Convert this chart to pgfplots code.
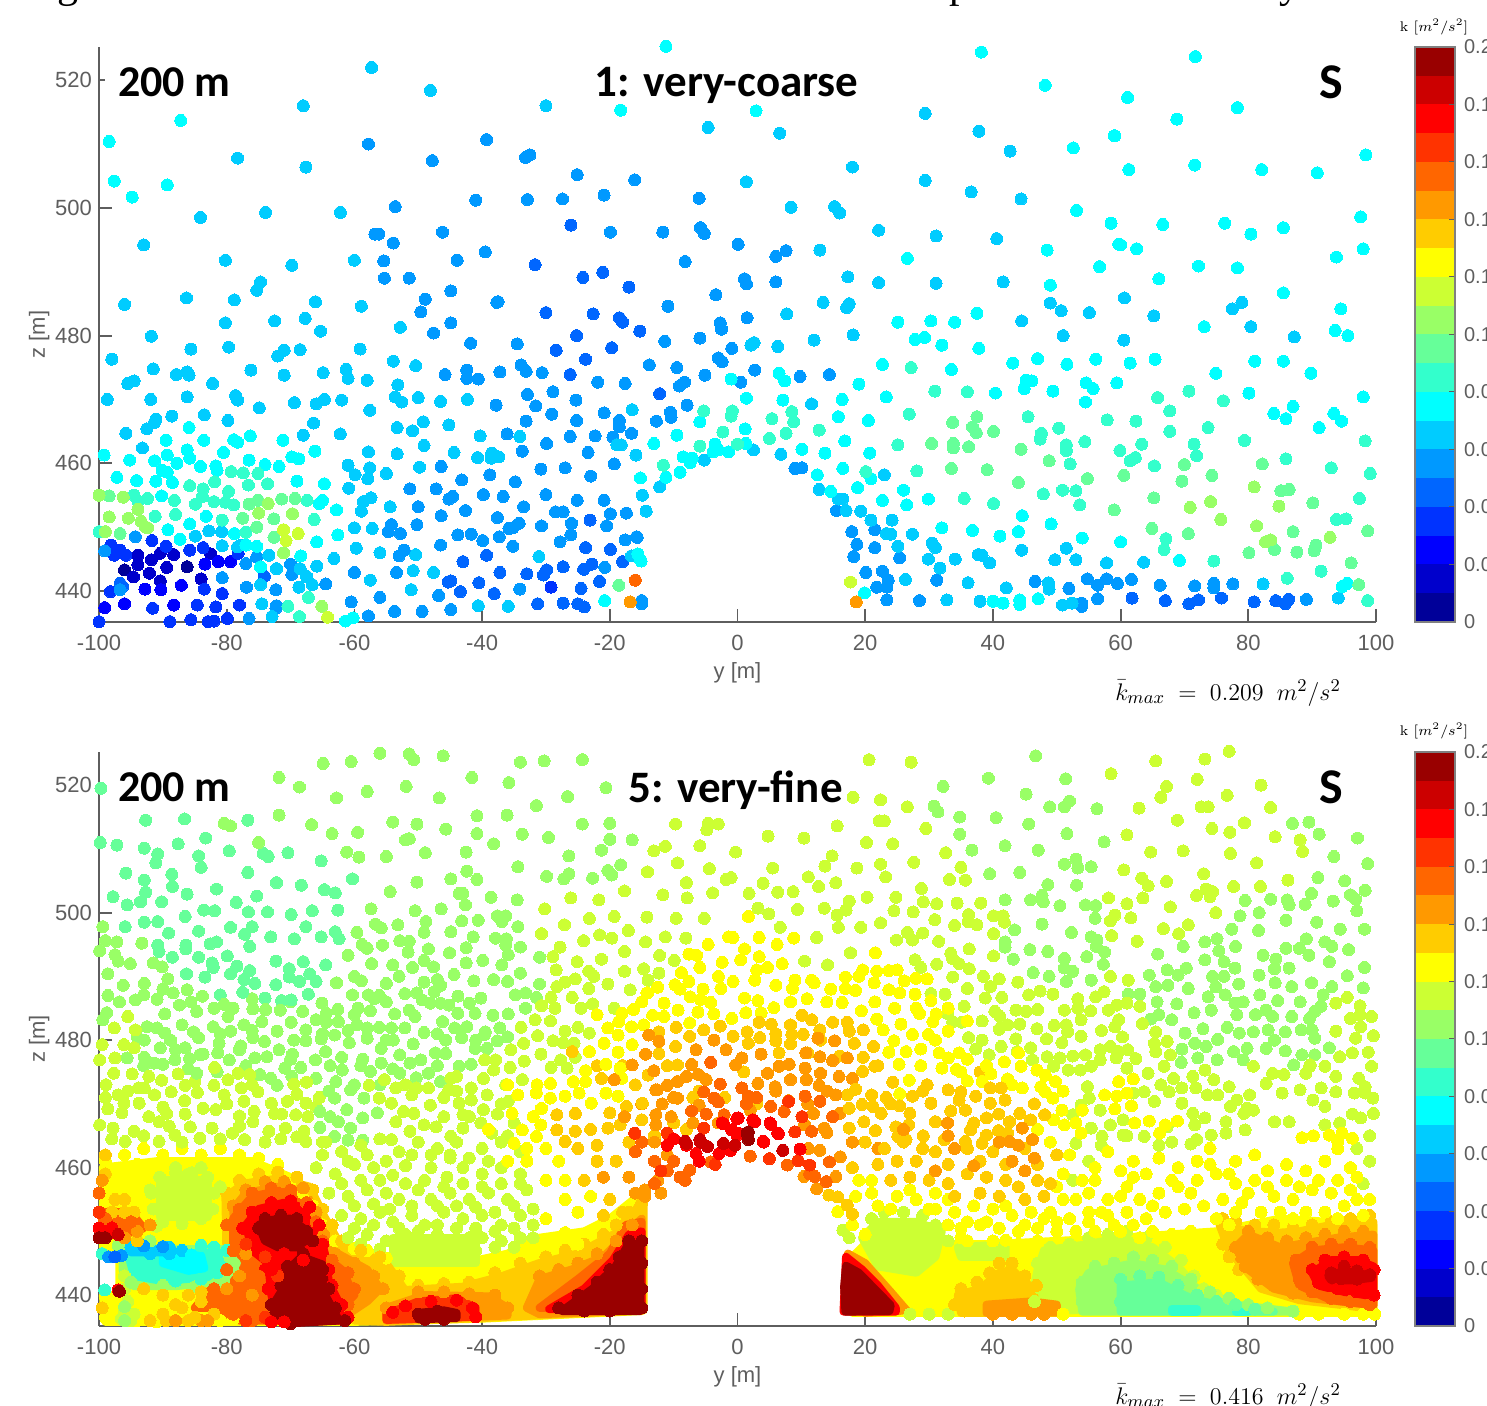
\documentclass[border=0pt]{standalone}
\usepackage{fontspec}
\setmainfont{Liberation Sans}
\newfontfamily\calib{Carlito}
\newfontfamily\serifx{Liberation Serif}
\usepackage{pgfplots}
\pgfplotsset{compat=1.18}
\definecolor{cA}{HTML}{000099}\definecolor{cB}{HTML}{0000CC}\definecolor{cC}{HTML}{0000FF}\definecolor{cD}{HTML}{0033FF}
\definecolor{cE}{HTML}{0066FF}\definecolor{cF}{HTML}{0099FF}\definecolor{cG}{HTML}{00CCFF}\definecolor{cH}{HTML}{00FFFF}
\definecolor{cI}{HTML}{33FFCC}\definecolor{cJ}{HTML}{66FF99}\definecolor{cK}{HTML}{99FF66}\definecolor{cL}{HTML}{CCFF33}
\definecolor{cM}{HTML}{FFFF00}\definecolor{cN}{HTML}{FFCC00}\definecolor{cO}{HTML}{FF9900}\definecolor{cP}{HTML}{FF6600}
\definecolor{cQ}{HTML}{FF3300}\definecolor{cR}{HTML}{FF0000}\definecolor{cS}{HTML}{CC0000}\definecolor{cT}{HTML}{990000}
\definecolor{axg}{HTML}{5E5E5E}
\pgfplotsset{
 dots/.style={only marks,mark=*,mark size=3pt,color=#1,mark options={line width=0pt,fill=#1,draw=#1}},
 blob/.style={fill=#1,draw=#1,line width=4pt,line join=round,mark=none},
 main/.style={scale only axis,width=638.5pt,xmin=-100,xmax=100,ymin=435.15,ymax=525.2,clip=false,
  axis lines*=left,axis line style={color=axg,line width=1.2pt,-},
  tick style={color=axg,line width=0.9pt},major tick length=6.5pt,tick align=inside,
  xtick={-100,-80,...,100},ytick={440,460,...,520},
  tick label style={font=\fontsize{11}{13}\selectfont,text=axg},
  xticklabel style={yshift=-3pt},
  /pgf/number format/assume math mode=true,/pgf/number format/1000 sep={},
  xlabel={y [m]},ylabel={z [m]},
  label style={font=\fontsize{11}{13}\selectfont,text=axg},
  xlabel style={yshift=1pt},ylabel style={yshift=-4pt}},
 cbar/.style={scale only axis,width=20pt,xmin=0,xmax=1,ymin=0,ymax=0.2,clip=true,
  xtick=\empty,ytick={0,0.02,...,0.2},yticklabels={0,0.02,0.04,0.06,0.08,0.1,0.12,0.14,0.16,0.18,0.2},
  ytick pos=right,yticklabel pos=right,tick align=inside,major tick length=3pt,
  axis line style={color=gray,line width=0.6pt},tick style={color=axg,line width=0.5pt},axis on top,
  tick label style={font=\fontsize{10}{11}\selectfont,text=axg,xshift=1pt},
  /pgf/number format/assume math mode=true}
}
\newcommand\cb[3]{\addplot[fill=#1,draw=none] coordinates {(0,#2)(1,#2)(1,#3)(0,#3)} --cycle;}
\newcommand\cbands{\cb{cA}{0}{0.01}\cb{cB}{0.01}{0.02}\cb{cC}{0.02}{0.03}\cb{cD}{0.03}{0.04}\cb{cE}{0.04}{0.05}\cb{cF}{0.05}{0.06}\cb{cG}{0.06}{0.07}\cb{cH}{0.07}{0.08}\cb{cI}{0.08}{0.09}\cb{cJ}{0.09}{0.1}\cb{cK}{0.1}{0.11}\cb{cL}{0.11}{0.12}\cb{cM}{0.12}{0.13}\cb{cN}{0.13}{0.14}\cb{cO}{0.14}{0.15}\cb{cP}{0.15}{0.16}\cb{cQ}{0.16}{0.17}\cb{cR}{0.17}{0.18}\cb{cS}{0.18}{0.19}\cb{cT}{0.19}{0.2}}
\newcommand\boxes[3]{%
 \fill[white] (axis cs:-99,#1) rectangle (axis cs:-74.7,525.4);
 \fill[white] (axis cs:-23.2,#2) rectangle (axis cs:#3,525.4);
 \fill[white] (axis cs:86,#1) rectangle (axis cs:98.2,525.4);
 \node[font=\calib\bfseries\fontsize{22}{24}\selectfont] at (axis cs:-88.2,519.7) {200 m};
 \node[font=\calib\bfseries\fontsize{25}{26}\selectfont] at (axis cs:93,519.7) {S};}
\begin{document}
\begin{tikzpicture}
\path[use as bounding box] (0,0) rectangle (743.5pt,703pt);
\clip (0,0) rectangle (743.5pt,703pt);
\node[anchor=base,font=\serifx\fontsize{21}{24}\selectfont] at (34pt,704pt) {g};
\node[anchor=base,font=\serifx\fontsize{21}{24}\selectfont] at (480pt,704pt) {p};
\node[anchor=base,font=\serifx\fontsize{21}{24}\selectfont] at (645pt,704pt) {y};
% ---------------- top panel
\begin{axis}[main,anchor=south west,at={(49.5pt,392pt)},height=287.5pt]
\addplot[dots=cA] coordinates {(-96,443.3)(-86.2,443.8)};
\addplot[dots=cB] coordinates {(-82.5,445.8)(-88.3,445.7)(-90.4,445.9)(-91.8,444.9)(-93.9,445.6)(-93.9,444.1)(-89.4,443.7)(-92.1,442.8)(-94.6,442.2)(-84,441.9)(-90.4,441.6)};
\addplot[dots=cC] coordinates {(-83.4,444.2)(-81.3,444.6)(-79.4,444.6)(-87.1,440.9)(-92.8,440.3)(-90.3,440.2)(-96,438)(-99.1,437.4)(-88.3,437.8)};
\addplot[dots=cD] coordinates {(-83.7,446.8)(-85.8,446.4)(-89.5,447)(-95.8,445.6)(-96.7,446.4)(-98.1,447.2)(-97.6,445.6)(-83.5,440.3)(-98.2,439.9)(-80.7,439.6)(-91.6,437.3)(-84.6,437.8)(-81.7,437.5)(-78,437.8)(-100,435.2)(-88.9,435.2)(-85.6,435.5)(-82.9,435.2)(-82,435.3)(-79.9,435.7)(-78.2,445.9)(-29.2,440.6)(-91.7,447.9)};
\addplot[dots=cE] coordinates {(-30,483.6)(-22.6,483.4)(-18.5,482.8)(-18,482.1)(-15.3,480.7)(-25.2,480)(-28.4,477.7)(-19.7,478.1)(-26.1,497.3)(-31.7,491.1)(-21.1,489.9)(-24.2,489.1)(-17,487.6)(-12.2,470.9)(-23.8,476.3)(-26.2,473.9)(-23.1,451.1)(-23.8,446.8)(-19.9,446.5)(-39.3,445.6)(-43,444.6)(-18,444.6)(-27.3,443.8)(-22.8,444.2)(-24.1,443.4)(-29.9,443.3)(-30.4,442.5)(-37.2,442.9)(-33,442.7)(-44.9,441.6)(-45.3,441.4)(-40.5,441.3)(-21.6,441.5)(-24.5,440.4)(-43.4,439.9)(-38.1,439.6)(-31.3,438)(-27.3,438.1)(-25,438)(-24,437.5)(-74.1,442.3)(-96.7,441.2)(-96.3,440.7)(61.8,438.9)(67,438.5)(70.7,438)(72.2,438.6)(75.8,438.9)(80.9,438.3)(84.3,438.5)(85.8,438)(86.3,438.7)};
\addplot[dots=cF] coordinates {(-57.8,510)(-47.8,507.4)(-39.3,510.7)(-41,501.2)(-53.6,500.2)(-56.8,495.9)(-56.2,495.9)(-53.9,494.5)(-46.2,496.2)(-39.5,493.1)(-43.9,491.8)(-55.4,491.7)(-55.3,489)(-51.4,489)(-48.9,485.7)(-44.9,487)(-49.6,483.7)(-44.9,482)(-37.7,485.2)(-47.6,480.4)(-41.8,478.8)(-33.2,507.9)(-32.5,508.3)(-25.1,505.2)(-16.1,504.4)(-32.9,501.3)(-27.4,501.4)(-20.9,502)(-6,501.5)(-19.9,496.2)(-11.7,496.2)(-5.8,496.9)(-5.2,496)(0.1,494.3)(7.6,493.3)(6,492.4)(-8.2,491.6)(1.1,488.9)(1.4,488.1)(6,488.4)(-37.5,485.3)(-3.4,486.4)(-10.9,484.6)(1.5,482.8)(-2.7,482)(-2.5,481)(-34.5,478.7)(-11.4,479.1)(-5.9,479.6)(-0.9,478)(-13.8,475.4)(-9.5,475)(-3,476.5)(-2.4,475.9)(-5.1,473.8)(2.7,474.6)(0.5,472.7)(9.8,473.6)(14.4,473.9)(-8.3,472.7)(-9.1,472.1)(-7.9,469.1)(-10.5,468)(-10.4,467.2)(-12.7,466.6)(-45.8,473.9)(-42.4,474.6)(-42.4,473.3)(-40.6,473.2)(-37.2,474.3)(-33.9,475.4)(-33.1,474.4)(-30.6,474.2)(-21.9,472.7)(-17.6,472.5)(-28.9,471.2)(-32.9,470.8)(-25.3,469.9)(-31.6,469)(-37.8,469.1)(-33.1,466.6)(-29.1,467.7)(-25.2,466.7)(-26.2,464.2)(-29.9,463.1)(-22.3,464.3)(-20.9,467.9)(-18.5,466.7)(-18.5,465.7)(-16.6,464.7)(-19.5,464.1)(-36.1,464.6)(-19.3,459.9)(-23.4,461.7)(-33.7,461.9)(-46.4,459.5)(-30.8,459.1)(-27,459.3)(-23,458)(-38.8,458.2)(-51.3,456)(-47.2,456)(-45.2,454.4)(-44.6,454.8)(-43.2,457.4)(-39.8,455.1)(-36.7,454.8)(-34.8,457.1)(-30,455.1)(-33.5,453.2)(-37.6,451.5)(-34.2,450.6)(-35.2,449.9)(-35.8,449.8)(-28.5,452.4)(-27.3,452.4)(-25.1,454.2)(-20.9,454.2)(-19.9,452.1)(-17.4,452.2)(-20.5,450.2)(-26,450.6)(-26.1,448.8)(-30.7,450.2)(-27.8,447.7)(-37.3,448.5)(-41.7,448.9)(-43.8,448.8)(-39.9,447.9)(-35.2,447)(-17.6,448)(-15.7,448.4)(-46.5,447.2)(-52.2,446.4)(-53,445.5)(-54.2,450.4)(-54.7,449.3)(-52.8,449)(-50.2,450.4)(-50,453.2)(-46.4,451.8)(-42.6,452.6)(-20.8,443.7)(-53.4,442.9)(-60,442.9)(-34.1,440.3)(-51.1,440.2)(-46.8,439.3)(-56,439)(-60.5,438.3)(-15,438.5)(-15,438)(-44.9,437.1)(-49.4,436.8)(-53.7,436.8)(-57.8,436.1)(-72.2,437.7)(-72.3,437.3)(-76.5,435.7)(-64.5,441.1)(-72.3,440.2)(-76.9,440.6)(-69.8,442.6)(-70,444.2)(-75.3,445.3)(-77,444.3)(-80.7,442.1)(-99.1,446.3)(-96.7,440.2)(-94.3,448.5)(-15.8,448.5)(9,459.2)(10.1,459.3)(15.5,452.6)(17.9,449.3)(21.5,449.6)(18.7,447.3)(21.5,446.8)(18.2,445.4)(25.4,445.2)(20.1,442.9)(22.7,443.1)(31.2,441.7)(46.6,441.5)(51.9,440.4)(54.8,441.9)(56.4,440.9)(57.8,441.9)(59.5,441.2)(61.7,441.8)(66.2,440.9)(71.6,440.8)(74.6,441.2)(74.6,440.5)(77.6,441.1)(23.6,441.7)(23.4,440.6)(21.8,440.6)(23.4,438.6)(28.5,438.5)(53.9,438.1)(53.9,437.6)(56.4,438.8)(89.1,438.7)};
\addplot[dots=cG] coordinates {(-93,494.2)(-84.1,498.5)(-78.3,507.8)(-73.9,499.3)(-68,516)(-67.6,506.4)(-62.2,499.3)(-57.3,522)(-48.1,518.4)(-60,491.8)(-69.8,491)(-80.2,491.8)(-74.7,488.4)(-75.3,487.1)(-96,484.9)(-86.3,485.9)(-78.8,485.6)(-66.1,485.3)(-58.9,484.6)(-80.2,482)(-72.5,482.3)(-67.7,482.7)(-65.3,480.7)(-52.8,481.3)(-91.8,479.9)(-30,516)(29.4,514.8)(-4.6,512.6)(6.6,511.7)(37.8,512)(42.7,508.9)(1.4,504.1)(18,506.4)(29.4,504.3)(36.6,502.5)(44.4,501.4)(8.4,500.1)(15.2,500.2)(16,499.2)(12.9,493.4)(22.1,496.5)(31.1,495.6)(40.6,495.2)(17.3,489.2)(22.1,488.3)(31.1,488.2)(41.6,488.4)(13.4,485.2)(17.5,485)(17.1,484.4)(49,485.1)(50.7,483.9)(55.1,483.6)(7.7,483.4)(44.5,482.3)(2.6,478.9)(2.1,478.5)(6.3,478.3)(12,479.3)(18.1,480.1)(51,480)(60.6,485.9)(65.2,483.1)(79,485.2)(77.5,484.2)(80.4,481.4)(60.5,479.3)(87.2,479.8)(-98,476.3)(-85.6,477.9)(-79.7,478.2)(-71,477.7)(-72,476.8)(-68.5,477.8)(-59.1,477.9)(-53.9,476)(-50.4,475.3)(-91.5,474.8)(-86.2,474.3)(-87.9,473.9)(-85.9,473.8)(-94.5,472.9)(-95.5,472.5)(-82.2,472.5)(-76.2,474.6)(-71,473.8)(-64.9,474.2)(-61.3,474.7)(-61,473.3)(-58,473)(-53.2,472.3)(-42.3,470)(-46.5,469.7)(-50,470.3)(-53.6,470.4)(-52.6,469.6)(-57.6,468.3)(-62,469.9)(-66,469.3)(-64.7,470)(-69.4,469.5)(-74.9,468.7)(-78.6,470.6)(-78.3,469.9)(-86.2,470.4)(-91.9,470)(-98.7,470)(-88.6,467.4)(-83.5,467.6)(-91.1,466.9)(-91.3,466.4)(-79.8,466.7)(-92.5,465.4)(-95.8,464.7)(-68,464.4)(-66.4,466.3)(-62.2,464.6)(-49.2,466.5)(-53.3,465.6)(-50.9,465.1)(-45.2,466)(-40.3,464.3)(-34.1,464.2)(-16.5,468.4)(-18.9,462.9)(-18.2,462.9)(-15.9,461.3)(-38.5,461.6)(-38.6,460.8)(-37.4,461)(-40.7,460.9)(-44.4,461.7)(-49.1,462.8)(-53.3,461.5)(-57.8,461.8)(-49.8,459.4)(-61,459.7)(-57.6,459.3)(-59.9,458.2)(-57.9,457.6)(-55,458.4)(-93.2,462.4)(-58.6,454)(-57.4,454.6)(-58.9,452.5)(-60.9,456.1)(-54.4,453.2)(-60,449.9)(-57.2,449.8)(-84.9,448.6)(-82.8,449.4)(-80.8,449.3)(-78.3,446.9)(-77.8,447.2)(-80.7,447.1)(-59.7,446.7)(-50.4,445.7)(-56,446)(-63.2,445.1)(-65.9,443.9)(-31.1,445.4)(-16.6,445.5)(-50.8,443.2)(-47.6,442.9)(-57.5,441.7)(-68.7,440.6)(-66.6,441)(-74.7,441)(-67.5,442.3)(-72.2,443.5)(-68.5,443.5)(-73.4,445.6)(-51.1,440.2)(-40.6,437.7)(-35.9,437.6)(-74.5,438)(-72.9,436)(11.6,469.3)(-14.9,455)(-14.3,452.5)(-12.2,456.3)(2.5,462.1)(6.8,461.4)(-5.2,460.5)(12.8,455.9)(15.8,454.4)(16.5,454.4)(17,452.6)(19.3,452.5)(20.9,451.1)(24.2,451.1)(23.3,449)(24,448.9)(27.4,448.9)(25.1,447)(30.5,447.5)(31,446.8)(29.9,445)(34.1,445)(31.7,443.6)(37.7,445.7)(38.3,445.6)(39.5,444.4)(44.5,446.4)(49.7,444.9)(51.5,446.7)(53,444.9)(57.8,444.4)(63.6,444.5)(26.3,441.8)(36.1,441.3)(42.1,440.5)(48.7,441.3)(48.8,440.3)(82.3,441.1)(32.8,438.6)(38,438.4)(50.9,437.8)(52.4,438.1)(94.1,438.9)(23,458.2)};
\addplot[dots=cH] coordinates {(-98.4,510.4)(-97.6,504.2)(-94.8,501.7)(-89.3,503.6)(-87.2,513.7)(-11.2,525.3)(38.2,524.4)(48.2,519.2)(-18.3,515.3)(2.9,515.2)(52.6,509.4)(59,511.3)(53.1,499.6)(58.5,497.6)(48.5,493.4)(59.7,494.3)(26.6,492.1)(56.7,490.8)(49,487.9)(25.1,482.1)(30.3,482.3)(34,482.1)(37.5,483.5)(27.8,479.4)(29.3,479.7)(32,478.5)(37.8,478)(71.7,523.7)(61.1,517.3)(78.3,515.7)(68.8,513.9)(59.1,511.3)(98.4,508.3)(61.3,506)(71.6,506.7)(82.1,506)(90.8,505.5)(66.6,497.4)(76.3,497.6)(80.4,495.9)(85.5,496.9)(97.6,498.6)(60,494.2)(62.5,493.6)(98,493.6)(93.8,492.3)(72.2,490.9)(78.3,490.6)(66,488.9)(85.5,486.7)(94.5,484.2)(73.1,481.4)(93.6,480.8)(95.6,480)(6.5,474.1)(7.4,472.9)(-1,473.2)(22.7,475.5)(33.5,474.7)(43.1,475.7)(47,476.4)(51.6,475.5)(56.1,476.3)(61.5,475.7)(65.4,476.3)(81,476)(85.5,476)(74.9,474.1)(89.8,474.1)(45.2,473)(46.1,472.9)(44.9,471.7)(54.6,472.6)(55.7,471.7)(59.4,472.6)(49.4,471.3)(19,472.4)(40.4,471)(1.4,470.2)(7.1,469.9)(16.4,470)(23.3,470.4)(54.5,469.6)(80.1,471)(98,470.4)(-5.9,466.5)(15.8,467.3)(20.5,466.7)(84,467.8)(85.9,467)(87,468.9)(91.1,465.6)(93.4,467.8)(94.6,466.6)(-9.5,464.4)(1.2,465.4)(-13.1,463.1)(-3.5,463)(-3,462.1)(-3.8,461.8)(-1.4,461.8)(1.3,463.1)(10.1,462.2)(13.7,461.6)(16.8,463.5)(20.7,461.6)(-8.5,461)(-7.1,460.8)(-7.4,460.1)(-9,458.6)(-11.2,457.8)(-15.2,457.7)(16.5,459.2)(12.5,458.2)(20.9,457.6)(14.6,455.6)(18.8,456.2)(26,455.8)(22.7,454.2)(26.5,453.5)(29.9,454.4)(44.6,451.8)(49.1,450.5)(32,449.9)(36.8,449.5)(44,449.3)(41.1,448.6)(54,448.3)(60,447.7)(69.2,444.8)(95.5,441.2)(94.7,440.7)(19.9,439.7)(40,438.4)(41.6,438.1)(44.2,438.6)(44.2,437.9)(47.1,438.8)(-15.1,444.7)(-85.9,465.6)(-89.5,463.6)(-83.6,463.6)(-78.9,463.7)(-78.3,463.3)(-76.3,464.3)(-71.2,463.6)(-66.2,461.9)(-69.8,461)(-68.7,460.7)(-99.2,461.3)(-95.2,460.5)(-91.3,460.4)(-89.3,461.3)(-86.2,462.1)(-85.8,460.8)(-87.8,460)(-80.5,461.7)(-76.5,460.5)(-84.1,459.5)(-81.7,459.6)(-81.5,458.9)(-90.1,458.9)(-89.3,458.6)(-74,459.8)(-71.8,459.5)(-97.2,457.8)(-94.1,457.3)(-91.1,457.2)(-88.5,457)(-69,457.2)(-64.7,456.8)(-90.2,454.9)(-65.5,453.7)(-65,454.2)(-83.2,451.7)(-62.8,452.7)(-85.8,450.5)(-89.2,449.6)(-87.3,448.1)(-78.8,449)(-62.6,448.8)(-65.9,447.7)(-75.3,447)(-77,447.2)(-74.7,443.8)(-68.4,445.5)(-15.6,445.8)(-15.2,444.9)(-61.4,435.3)(-60.2,435.8)(-20.8,438.5)};
\addplot[dots=cI] coordinates {(27.2,475)(30.9,471.3)(36,471.2)(65.8,470.3)(70.7,471.3)(76.1,469.8)(-5.3,468.2)(-0.8,468.2)(-1,467.4)(5.4,467)(8.5,468.1)(8.8,466.5)(26.9,467.7)(45.5,467.3)(57.9,466.8)(62.4,466.6)(67.7,468.2)(67.7,465)(73.7,465.6)(79.4,463.6)(98.3,463.5)(-2.3,464.9)(12.8,465.2)(7.6,464.7)(5,463.9)(-5.9,462.7)(0,463)(25.1,462.9)(47.6,464.7)(47.4,463.8)(50.3,465.5)(51.5,462.9)(51.5,462)(54.4,463.4)(59.9,462)(63.3,463)(71.5,463)(71.9,461.2)(62.3,460.9)(61.5,460.4)(52.1,459.9)(65.3,459.6)(85.9,460.7)(93,459.3)(99.1,458.4)(28.1,458.8)(20.1,458.7)(-11.6,459.7)(35.5,454.5)(40.1,453.7)(47.9,455.2)(50.9,455.8)(53,455.7)(53.6,453.5)(97.4,454.5)(93.8,451.2)(95.3,451.3)(67.1,448.2)(66.8,446.5)(74.6,444.7)(91.4,443.1)(86.1,442)(98.7,438.5)(-79.3,458.7)(-77.4,458.5)(-75.1,458.4)(-81.9,457.1)(-73.6,456.8)(-76.6,456.6)(-85.8,456.5)(-83.7,456)(-79.7,455.6)(-83.8,454.8)(-94.5,455)(-92.4,454.5)(-93.9,454)(-88.2,454.2)(-84.9,453.6)(-82,454)(-80.2,453.9)(-78.9,453.5)(-67.4,454.2)(-91.2,451.7)(-88,452)(-66.3,451.2)(-80.7,451.1)(-77,449.2)(-100,449.3)(-67.2,439)(-70.4,437.6)(-68.6,436)};
\addplot[dots=cJ] coordinates {(33.7,466.4)(37.5,467.3)(36.8,465.7)(37.4,464.8)(40.1,465)(30.4,463.1)(33.8,463.1)(33.8,462.4)(36.2,462.6)(44.4,462.2)(48.8,460.4)(70,459.8)(82.2,459.9)(33.5,459.2)(39.1,459)(44,457)(54.8,457.6)(60.5,458.1)(69.6,457.2)(74.3,458.1)(85.1,455.7)(86.4,455.9)(65.2,454.6)(90.1,453.8)(59,452.7)(64.9,449.8)(70.6,449)(87,449.3)(98.7,449.4)(84.1,446.5)(90.6,447.2)(90.3,446.3)(80.1,446)(87.6,446.1)(96.1,444.4)(97.3,441)(-75.1,454.2)(-76.5,453.6)(-71.4,454.4)(-69.3,454.5)(-98.4,454.9)(-77.5,451.4)(-75.3,450)(-96.7,449)(-72.6,451.3)(-72.6,448.4)(-18.6,440.9)};
\addplot[dots=cK] coordinates {(-100,455)(-96.2,454.7)(-93.9,452.8)(-98.4,451.6)(-95.4,451.4)(-75,452.2)(-73.5,453.7)(-69.7,452.1)(-93.4,450.9)(-92.7,450)(-92.4,449.9)(-99,449.3)(-71.1,446)(-65.1,437.6)(80.9,456.3)(70.9,453.1)(74.1,454)(84.8,453.3)(75.7,451.2)(81.3,450.2)(92.8,448.4)(83.5,448)(82.7,447.7)};
\addplot[dots=cL] coordinates {(-71.1,449.6)(-68.8,449)(-70.7,447.9)(-64.2,435.9)(17.7,441.4)};
\addplot[dots=cO] coordinates {(18.6,438.3)(-16.8,438.3)};
\addplot[dots=cP] coordinates {(-16,441.7)};
\boxes{514.4}{515.8}{19.1}
\node[font=\calib\bfseries\fontsize{22.5}{24}\selectfont] at (axis cs:-1.7,519.2) {1: very-coarse};
\end{axis}
\node[font=\fontsize{12.8}{14}\selectfont] at (614pt,356.5pt) {\fontspec{Latin Modern Roman}$\bar{k}_{max}\;=\;0.209\;\;m^2/s^2$};
\begin{axis}[cbar,anchor=south west,at={(707.5pt,392pt)},height=287.5pt]
\cbands
\end{axis}
\node[font=\fontsize{7}{8}\selectfont] at (717pt,689.5pt) {\fontspec{Latin Modern Roman}k $[m^2/s^2]$};
% ---------------- bottom panel
\begin{axis}[main,anchor=south west,at={(49.5pt,40pt)},height=287pt]
% solid ground layers, left
\addplot[blob=cM] coordinates {(-99.4,460)(-91,461)(-76,461)(-70,458.5)(-66,452)(-64,449)(-58,446.5)(-52,444.5)(-43,445)(-36,446.5)(-31,449)(-24,450)(-20,452)(-15,456)(-15,437.5)(-40,436.3)(-60,435.8)(-99,435.8)(-99.4,440)(-96.8,440)(-96.8,447.5)(-99.4,447.5)} --cycle;
\addplot[blob=cL] coordinates {(-90.5,458)(-83,458)(-83,452.2)(-90.5,452.2)} --cycle;
\addplot[blob=cL] coordinates {(-54,449)(-41,449)(-41,445)(-54,445)} --cycle;
\addplot[blob=cP] coordinates {(-99.5,453)(-95,453)(-93,450.5)(-96,449.5)(-99.5,449.5)} --cycle;
\addplot[blob=cR] coordinates {(-99.5,451.3)(-97.5,451)(-97,449.6)(-99.5,449.2)} --cycle;
\addplot[blob=cN] coordinates {(-80.2,455.4)(-77.3,457.5)(-71.8,458.3)(-67,457)(-64.7,452.3)(-62.3,448.1)(-55,445)(-52.1,440.8)(-43.1,441.3)(-37.1,442.9)(-31.1,445)(-25.1,446.5)(-19.1,449.7)(-16.7,452.8)(-14.7,453.9)(-14.7,437.6)(-40,436.4)(-55,435.8)(-60,436)(-62,441)(-70,441)(-80,444)} --cycle;
\addplot[blob=cO] coordinates {(-79,453.5)(-77,456)(-72,457)(-67.5,456)(-65.5,451)(-63.5,447)(-58,444)(-56,441)(-58,439)(-61,437)(-65,436)(-78,440)} --cycle;
\addplot[blob=cO] coordinates {(-49,440)(-44,439.9)(-39,439.8)(-36,438)(-36,436.8)(-55,436)(-55,438)} --cycle;
\addplot[blob=cO] coordinates {(-31,442.5)(-26,444)(-21,446)(-18,449)(-15,452)(-15,437.6)(-31,437)(-33,438)} --cycle;
\addplot[blob=cP] coordinates {(-79,452)(-76,455.5)(-71,456.5)(-68,455)(-66,451)(-64.5,446)(-62,444)(-60,440)(-62,438)(-64,436)(-78,436)(-82,438)(-85,438)(-82,441.5)(-79,446)} --cycle;
\addplot[blob=cQ] coordinates {(-55,437)(-50,439)(-44,439.5)(-41,438)(-41,436.6)(-55,436.1)} --cycle;
\addplot[blob=cR] coordinates {(-77,451)(-75,453.5)(-71,454.5)(-67,453.5)(-65.5,450)(-64.5,446)(-64,442)(-62.5,439)(-62,436)(-70,435.8)(-72,436)(-73,440)(-73.5,445)(-76,447)} --cycle;
\addplot[blob=cT] coordinates {(-75,451)(-73,451.8)(-70,452)(-68,450.5)(-67,449)(-69,447.5)(-72,447.5)(-74,448.5)} --cycle;
\addplot[blob=cT] coordinates {(-68.3,446)(-65,444.8)(-64.4,439.7)(-62.4,436)(-69.5,435.6)(-71.6,437.8)(-72.6,438.7)(-71,441.3)(-70.4,444)} --cycle;
\addplot[blob=cT] coordinates {(-50,437.2)(-46,437.6)(-44,437.2)(-44,436.4)(-50,436.2)} --cycle;
\addplot[blob=cP] coordinates {(-31,438)(-25,442.5)(-20,446.5)(-17.5,451)(-15,451.5)(-15,437.6)} --cycle;
\addplot[blob=cR] coordinates {(-29.5,437.8)(-24,441)(-19.5,445.5)(-17,449.5)(-15,450)(-15,437.6)} --cycle;
\addplot[blob=cT] coordinates {(-27.5,437.5)(-22.7,441)(-19.1,444.5)(-17.3,447.6)(-15.2,447.8)(-15.2,437.5)} --cycle;
% pocket
\addplot[blob=cK] coordinates {(-96.3,447.2)(-80.5,447.2)(-78.4,445)(-80.5,442.2)(-88,441.4)(-94.6,441.4)(-96.3,443.9)} --cycle;
\addplot[blob=cI] coordinates {(-95.5,446.6)(-81.3,446.6)(-80.5,444.6)(-83,442.8)(-90,442.2)(-94.5,443)} --cycle;
\addplot[blob=cH] coordinates {(-90,446.2)(-84,446.2)(-83.5,444.2)(-86,443.8)(-90,445)} --cycle;
\addplot[blob=cG] coordinates {(-95,447.2)(-88.5,447.3)(-88.5,446.7)(-95,446.7)} --cycle;
% solid ground layers, right
\addplot[blob=cM] coordinates {(18,446)(20,448)(40,448)(60,449)(75,450)(85,452)(99.6,451)(99.6,437.2)(18,437.2)} --cycle;
\addplot[blob=cL] coordinates {(19.5,449)(22,451.5)(28,451.5)(32,450)(31,446)(28,443.5)(22,444.5)} --cycle;
\addplot[blob=cL] coordinates {(34.5,447.5)(42,448)(42,446)(35,446)} --cycle;
\addplot[blob=cL] coordinates {(47,444)(48,447)(55,448)(60,449)(65,447.5)(69,444.5)(72,441)(73,438.5)(50,437.5)(46,439)} --cycle;
\addplot[blob=cK] coordinates {(53.5,441)(55,443.5)(62,445)(67,444)(72,441)(78,438.5)(87,437.4)(54,437.4)} --cycle;
\addplot[blob=cJ] coordinates {(60,441.5)(66,442)(71,439.5)(77,438)(84,437.4)(60,437.4)} --cycle;
\addplot[blob=cI] coordinates {(68,437.8)(72,437.8)(72,437.4)(68,437.4)} --cycle;
\addplot[blob=cI] coordinates {(78,437.8)(80,437.8)(80,437.4)(78,437.4)} --cycle;
\addplot[blob=cN] coordinates {(34.5,440)(38,441)(41,443.5)(43,444)(45,442)(46.5,441)(46.5,438.5)(50,437.5)(50,437.2)(35,437.2)} --cycle;
\addplot[blob=cO] coordinates {(39,438.5)(46,439)(50,438.5)(50,437.3)(39,437.2)} --cycle;
\addplot[blob=cN] coordinates {(75.5,451)(80,450)(85,449.8)(88,450)(93,451)(99.6,451.5)(99.6,437.8)(95,438.4)(88,439.2)(82,441)(77,447)} --cycle;
\addplot[blob=cO] coordinates {(77.5,447)(80,449.5)(85,447.5)(88,448)(94,449)(99.6,449.5)(99.6,438.4)(90,439.5)(84,441)(80,444)} --cycle;
\addplot[blob=cP] coordinates {(87,445)(90,447)(95,447.5)(99.6,447)(99.6,438.4)(93,439.2)(88,441.5)} --cycle;
\addplot[blob=cR] coordinates {(90,443.5)(93,445.5)(97,445.5)(99.6,444.5)(99.6,439.8)(95,440.5)(91,441.5)} --cycle;
\addplot[blob=cS] coordinates {(92.5,443)(95,443.8)(98,443.3)(99.3,442.7)(96,442.3)(93,442.3)} --cycle;
\addplot[blob=cO] coordinates {(17.3,446.5)(20,445)(24,440.5)(26.5,437.6)(20,437.2)} --cycle;
\addplot[blob=cR] coordinates {(17,446)(19.5,444)(22,441.5)(24.8,438)(24.8,437.4)(16.6,437.4)} --cycle;
\addplot[blob=cT] coordinates {(17,444.6)(19,443.5)(24,438.4)(23.8,437.5)(16.9,437.4)(16.7,441.3)} --cycle;
% dots on the edges of the dense ground layers
\addplot[dots=cM] coordinates {(-99,461)(-96,462)(-93,463)(-90,462)(-87,463)(-84,462)(-81,463)(-78,462)(-75,461.5)(-72,460.5)(-97,459)(-94,460.5)(-86,460.5)(-80,460.5)(-70,458)(-68,456)(-66.5,454)(-65,451)(-63,448.5)(-60,447.3)(-58,447)(-55,445.8)(-99,436.5)(-91,435.8)(-94,436)(-81,436)(-79,436.2)(51,437)(88,437)(91,437)(95,437)(98,437)(99.8,437)(20,449.5)(35,449)(42,448.6)};
\addplot[dots=cL] coordinates {(-90.5,458.5)(-88,459.2)(-85.5,459.2)(-83,458.5)(-82,456)(-82.2,453.5)(-84,452)(-87,451.2)(-90,451.5)(-91.5,453.5)(-91.8,456)(-65,462)(-61,461)(-58,462)(-55,461)(-51,462)(-48,462)(-45,461.5)(-42,461.5)(-39,461)(-62,457.5)(-59,458)(-56,458)(-52,457.5)(-49,458)(-46,457)(-43,457.5)(-40,457)(-37,457.5)(-34,457.5)(-60,454)(-57,454.3)(-54.5,453.5)(-51,454)(-47,454)(-44,454)(-41,453.8)(-38,453)(-35,454)(-32,453.5)(-60,450.5)(-57,451)(-53,450.5)(-50,450)(-47,451)(-44,450.5)(-41,450.5)(-38,450)(-35,450.5)(-32,451)(-56,447.2)(-59,448)(-49,446.5)(-44,447.8)(-35,447.5)(-32,449)(47,445)(49,447.5)(52,448)(55,449)(58,449.5)(61,450)(64,449)(67,447.5)(69.5,445.5)(71.5,443)(73,441)(75,440)(47.5,441)(46.5,439)(27,437)(30,437)(33,437)(-96,443)(-96,441)(-95.5,439)(-96,437.5)(-94.5,437)(-96.5,436.3)(-95,436)(-99,471)(-95.5,472)(-90,469.5)(-85,473.5)(-80,470)(-76,473)(-72.5,468.5)(-69,471.5)(-65.5,471)(-98,464.5)(-93,465)(-89,466.5)(-87,464)(-81,464.5)(-78,466.5)(-74,464)(-71.5,464.5)(-69,464.8)(-65,464)(-66,469.5)(-46,471)(-46,468)(-44,472)(-42,468)(-37,470)(-35,467)(-36,465)(-45,462)};
\addplot[dots=cK] coordinates {(54,442)(56,444.5)(59,445)(62,446)(65,445.5)(68,444.5)(71,442.5)(74,440.5)(77,439.5)(80,438.5)(83,438)(87,437.5)(54,439)(-60,473)(-64,472)(-66,474)(-59,476)(-54,475.5)(-47,476)(-46.5,473.5)(-56,473)(-70,477)(-77,476)(-81.5,475)(-86,475.5)(-93,476)(-88,478.5)(-78,478.5)(-94,480.5)(-81,481)(-76,481.5)(-65,481)(-61,481.5)(-55,480)(-47,481)(-41,480)(-36,480.5)(-60,484)(-55,486)(-70,486)(-76,486.5)(-90,488)(-60,490)(-47,489.5)(-53,490)(-97,447.8)(-95,442)(-90,441.5)(-85,441.3)(-80.5,442)(-79,444)(-79.5,446)(-94,448)(-92,448.5)(-96,436)(-96,438.2)};
\addplot[dots=cJ] coordinates {(60,442.5)(63,443)(66,442.8)(69,441.5)(72,440)(75,439)(78,438.5)(81,437.8)(60,439)};
\addplot[dots=cI] coordinates {(-82,447.5)(-80,447)(-84,447.8)(-94,444)(-92,443)(-88,442.2)(-84,442.5)(-81.5,443.5)};
\addplot[dots=cG] coordinates {(-95,447.5)(-93,447.3)(-89,447.5)(-87,447)(-89,446.5)(-92,446.5)};
\addplot[dots=cH] coordinates {(-85.5,446.3)(-87,445)(-85,444.5)};
\addplot[dots=cN] coordinates {(-80,456)(-78,458)(-75,459)(-72,459.3)(-69,458.5)(-66.5,456.5)(-65,453.5)(-63.5,451)(-62,448.5)(-59,447)(-56,446)(-53,443)(-50,441.5)(-46,441.8)(-42,442)(-38,443.5)(-34,445)(-30,446)(-27,447)(-24,448)(-21,449.5)(-19,451)(-17,453)(-15,454.5)(-92,436)(-89.5,436)(-86,436)(-99.5,438)(-93,441)(-90,440)(-88,438.5)(-86,440)(-84,440.5)(-99,459)(-97.5,455)(-98,453)(-96,455)(-94.5,453)(76,452)(78,451.5)(81,451)(84,451)(87,450.5)(90,451)(93,451.5)(96,452)(99,452.5)(76,448)(77,446)(78.5,444)(35,441)(37.5,442)(39.5,443.5)(41,445)(43,445)(45,443)(46.8,441.5)(34,438.5)(35.5,437.5)(-18,476)(-16,473)(-22,476)(-14,474.5)(-11,476)(-6,472)(-2,471)(1,475)(3,470)(-10,467)(-7,471)(-23,466)(-22,463.5)(-17,464)(-13,465)(-8,466)(6,481)(13,480)(16,477.5)(22,476)(24,470)(27,468.5)(37,467)(29,472)(38,475)};
\addplot[dots=cO] coordinates {(-79,454)(-77,456.5)(-74,457.8)(-71,457.8)(-68,456.8)(-66,453)(-64.8,449.5)(-63,446.5)(-60,445)(-57,443)(-55.5,441)(-55,438)(-50,440.5)(-46,440.5)(-42,440.2)(-38,440)(-36,438)(-31,443)(-28,444)(-25,445)(-22,446.5)(-19,448.5)(-16.5,451)(-84,436)(78,447.5)(80,450)(83,449)(86,448.5)(89,449)(92,449.5)(95,450)(98,450)(79.5,444.5)(81.5,442.5)(84,441.5)(87,440.3)(40,437)(43,437)(46,437)(48,437)(-10,471)(-6,469.8)(-15,470)(-13,464)(-11,462)(-7,467)(-3,467)(2,469)(6,472)(8,470.5)(11,470)(14,472)(18,474)(16,468.5)(14,465.5)(18,464)(22,463)};
\addplot[dots=cP] coordinates {(-80,451)(-78,453.5)(-76,456)(-73,456.8)(-70,456.5)(-67.5,454.5)(-66,451.5)(-65,448.5)(-63.5,445.5)(-61,443.5)(-60,441)(-61,438.5)(-84,438.5)(-82,441)(-80,444)(-79,447)(-76,436)(87.5,445.5)(90,447.5)(93,448)(96,448)(99,447.5)(88,442.5)(90,440.5)(93,439.5)(96,439)(99,438.5)};
\addplot[dots=cR] coordinates {(-77.5,450.5)(-76,453)(-73,454.5)(-70,454.8)(-67,453.8)(-65.5,451)(-65,448)(-64,444)(-63.5,441.5)(-62,438.5)(-61,436.5)(-73.5,441)(-74,444)(-76.5,447)(90,444)(92,445.5)(95,446)(98,445.5)(99.7,444)(91,442)(94,441)(97,440.5)(99.7,440)(-54,437.3)(-52,438.3)(-48,439)(-44,439.2)(-41.5,438)(-41,436.6)};
\addplot[dots=cS] coordinates {(93,443.5)(95,444.5)(97,443.8)(99,443.2)(94.5,442.6)(97,442.5)};
\addplot[dots=cT] coordinates {(-75,450.5)(-74,452)(-71.5,452.5)(-69,452)(-67.5,450)(-66.5,448.5)(-65,444)(-64,441)(-63,438)(-61.5,436)(-70,435.5)(-73,438.5)(-71.5,441.5)(-70.5,444.5)(-72.5,436.8)(-68,446.5)(-15,448.5)(-17,448.5)(-15,445)(-15,441)(-15,438)(-18.5,446)(-20,444)(-22,442)(-25,440)(-28,438)(-20,437.5)(-24,437.5)(-50,437)(-47,437.5)(-45,437)(-49,436.2)(-46,436.2)};
% scattered dots
\addplot[dots=cI] coordinates {(-99.5,446.5)(-99.1,440.8)};
\addplot[dots=cF] coordinates {(-98.5,446)(-96.5,446.2)(-93,447.7)(-90,447.6)};
\addplot[dots=cE] coordinates {(-97.5,446)};
\addplot[dots=cJ] coordinates {(-99.7,519.5)(-92.7,514.5)(-86.6,514.7)(-76.7,514.5)(-83.3,511.7)(-87.6,510.8)(-99.8,511)(-97.2,510.6)(-92.9,510.1)(-79.6,509.7)(-70.4,509.4)(-74.3,509.3)(-73.5,508.8)(-90.8,509.2)(-91.1,507.8)(-84.4,508.9)(-84,507.1)(-65.2,508.1)(-76.7,506.3)(-95.8,506.2)(-88.6,506)(-88.5,504.1)(-92.9,505.1)(-60.3,505.3)(-72.2,504.7)(-68.3,504.3)(-64.7,503.6)(-63,503.1)(-81.6,503.7)(-86.2,502.9)(-92.7,503.2)(-93.5,501.7)(-97.8,502.5)(-95.6,501.2)(-90.2,501.7)(-78.5,501.6)(-75.3,502.6)(-83.6,500.4)(-81.9,500.3)(-76.6,500.1)(-73.6,500.1)(-66.6,500.3)(-62.6,500.4)(-69.9,499.7)(-86.5,499.4)(-92.9,498.5)(-90.8,498.6)(-95.9,497.8)(-89.1,496.8)(-84.4,497.1)(-79.4,497.7)(-76,497.8)(-77.2,496.6)(-67.6,497.8)(-73.1,496.2)(-69.4,495.9)(-65.2,496.2)(-63,497)(-62.4,495.9)(-90.8,494.9)(-90.6,493.9)(-86.4,494.9)(-86.4,494.3)(-82.6,495.1)(-81.6,495.4)(-76.4,494.7)(-88.5,493)(-84.4,493)(-79.9,493.2)(-82.3,492.1)(-82.1,491.4)(-78.4,491.6)(-72.3,492.4)(-68,492.3)(-64.5,491.8)(-86.3,490.4)(-83.4,489.9)(-79.4,490.4)(-76.4,490.9)(-77.3,489.5)(-75.6,488.9)(-70.2,491.2)(-70.2,489.9)(-68.6,489.2)(-67,490.4)(-66,489.2)(-81,487.1)(-77.5,487.5)(-72.3,488.7)(-74,486.6)(-71.4,486.2)(-69.9,486.3)(-67.2,487.2)};
\addplot[dots=cK] coordinates {(-71.8,521.2)(-68.6,519.7)(-64.9,523.4)(-60.5,523.7)(-56,525)(-51.4,524.9)(-50.7,524)(-46.1,524.6)(-34,523.6)(-30.3,523.8)(-24.3,524)(-62.8,518)(-58,519)(-51.9,519.8)(-46.7,518)(-41.6,521.2)(-35.8,520.4)(-26.6,518.2)(-20.6,519.6)(-31.5,516.8)(-71.8,515.3)(-40.8,515.2)(-36.1,515.3)(-24.3,513.9)(-20,514)(-66.7,513.8)(-54,514.2)(-50.2,513.9)(-45.7,513.1)(-63.5,512.4)(-59.5,512.6)(-40.8,512.4)(-33.7,512.3)(-29.6,511.8)(-52,511.4)(-51.4,511.6)(-38.2,510.8)(-20,511.5)(-16.5,511.4)(-21.3,509.8)(-80.4,514)(-79.4,513.6)(-75,511)(-61.2,509.5)(-59.3,508.7)(-55,508.8)(-48.9,509.4)(-42.5,509.5)(-26.4,508.9)(-34.4,507.2)(-18.3,507.5)(-20.3,506.6)(-19.7,505.9)(-42.4,506.5)(-40.8,505.2)(-44.9,505.3)(-50.2,504.8)(-29.9,505.7)(-26.4,506.1)(-27.2,505.3)(-22.7,505.4)(-54.4,503.3)(-43.6,503)(-43,503)(-38.6,502.4)(-34.5,502)(-57.4,500.6)(-50.5,500.3)(-46.4,500.6)(-42.6,501.2)(-99.4,497.8)(-59.6,496.9)(-56.7,498.2)(-55.8,497.6)(-53.2,498.1)(-48.8,498.6)(-49.1,496.9)(-43.2,498.7)(-40.6,498.8)(-37.6,499.5)(-36.3,499.5)(-36.9,498.6)(-34.4,497.8)(-44.9,497)(-41.4,496.2)(-99,495.6)(-97.2,495.4)(-99.9,494)(-93.3,495.2)(-37.9,496)(-36.2,495.9)(-36.3,494.9)(-34,494.6)(-52.9,495.6)(-51.4,495.5)(-51.6,493.8)(-58.8,495)(-58,494.4)(-55.6,494.9)(-48.4,494.3)(-42.5,494.5)(-61,493.3)(-45.1,493.7)(-35.9,493.4)(-31,493)(-97.5,493.4)(-97,492.4)(-95.1,492)(-91.5,492.1)(-90.1,491.5)(-57.3,492)(-54,491.8)(-50.9,491.4)(-49.1,492.5)(-47.6,491.5)(-42.5,492.1)(-39.9,492.5)(-36.9,491.8)(-98.6,490.4)(-89.2,489.6)(-62.8,489)(-58.9,489.3)(-55,488.9)(-49.1,489.1)(-44.4,490.3)(-41.3,489.3)(-38.2,489.5)(-36,489.2)(-34,490.5)(-31,488.8)(-96.2,488.6)(-92.9,488.9)(-98.6,487)(-93,487.1)(-94.3,486.3)(-96.8,486)(-88.4,487.4)(-86.2,487.9)(-90.9,486.4)(-83.8,486.9)(-87.4,485.5)(-85.6,486)(-60.3,487.1)(-57.8,487.1)(-56.1,487)(-56.9,486.5)(-52.1,487.3)(-50.2,487.4)(-49.4,486.3)(-47.5,487.6)(-46.5,488.6)(-43.8,486.9)(-40.2,486.6)(-42,485.8)(-34.8,487.1)(-33.2,487.4)(-31.5,486.7)(-33.2,485)(-35.9,484.1)(-38.3,483.9)(-65.1,485.8)(-62.6,484.8)(-59.4,485)(-57.5,484.6)(-53.7,484.1)(-51.4,484.7)(-50.5,483.7)(-48.1,485.8)(-46.5,485.8)(-45.2,485.5)(-43.8,484.2)(-41.1,484.2)(-82,485)(-80.4,485.6)(-79,485)(-75.9,484.9)(-73.9,484.8)(-71.6,484.7)(-68.1,484.5)(-64.4,484.2)(-98.8,484.3)(-99.4,483.2)(-89.7,484.1)(-87,482.4)(-84.7,484.5)(-79.8,483.7)(-82.1,482.1)(-77.3,482.4)(-74.5,482.9)(-69.9,482.8)(-66,483.2)(-64.4,482.8)(-62.5,482.9)(-67.6,481.6)(-63.1,480.8)(-59.6,482.4)(-58,481.9)(-56.1,482)(-54.2,481.9)(-52.1,481.9)(-49.1,481.2)(-46.2,482.9)(-44.3,481.9)(-42.4,482.1)(-39.5,481.3)(-37.2,481.9)(-92.5,482.1)(-90.9,481.9)(-89.7,481.1)(-85.2,481.3)(-84.4,480.4)(-79.4,481.4)(-72.1,481.4)(-92.9,480)(-88.8,480)(-90.4,478.8)(-86.5,478.8)(-84.2,477.7)(-81.2,479.5)(-81.4,478)(-77.8,479.1)(-75.9,480.4)(-74.1,479.8)(-69.5,480)(-67.6,479.9)(-65.2,480.2)(-60.8,479.6)(-58,480.3)(-53.9,480)(-55.8,478.7)(-50.8,479.4)(-45.7,480)(-43.2,480.4)(-39.6,480.9)(-41.1,478.7)(-39.2,478.7)(-37.6,479.9)(-95.6,477.2)(-92.9,477.3)(-88.1,476.9)(-85.8,477.1)(-83.7,477.8)(-91.4,476.4)(-90,476.2)(-79.6,476.9)(-75.6,477.2)(-73.7,477.4)(-71.8,478.5)(-69.7,477.8)(-66.1,476.9)(-64.5,478.2)(-62,477.3)(-58.7,477)(-55.8,476.4)(-52.9,477.7)(-51.3,476.4)(-49.6,476.9)(-47.3,478)(-45.7,477.9)(-43.6,475.9)(-41.7,476.2)(-84.7,474.8)(-74.8,474.6)(-73.1,474)(-72.1,472.9)(-70.9,475.6)(-69.8,474.3)(-68.4,475.7)(-63.8,476)(-61.9,475.3)(-62.9,473.5)(-60.6,472.2)(-57.5,475.1)(-52.9,474.8)(-50.3,474.1)(-48.4,474.8)(-63.1,470.9)(-58.5,470.9)(-65.4,468.8)(-61.2,469.1)(-63.8,468)(-62.5,467.2)(-58.7,467.8)(-56.4,468.6)(-65.4,466.3)(-60.6,466.2)(-63.1,464.9)(-61,464.3)(-58.7,464.3)
(32.2,519.8)(39.3,521.1)(46.7,524.6)(51.4,521)(45.2,518.6)(48.9,516.6)(52,517.5)(51.2,516.6)(56.3,516.3)(30.8,516.7)(31.4,515.8)(34.8,515)(40.5,514.9)(45.6,513.9)(34.8,512.3)(51.6,512.4)(57.4,511.1)(41.9,510.5)(47.1,509.8)(36.7,509.8)(39.5,506.1)(44.2,506.3)(51.2,507.6)(53,508.4)(53.3,507)(55.4,507.2)(48.6,504.4)(53.1,504.3)(41.9,502)(45.9,502)(47.7,502.7)(47.9,501.7)(50.5,501.1)(54.5,501.2)(56.1,501.1)(56,499.1)(47.7,498.2)(43.4,497.3)(52.3,496.9)(55.4,496.2)(56.3,495.7)(56.2,494.7)(41.9,495.4)(41.9,494.6)(45.8,494.2)(48.6,493.9)(43.2,492.7)(51.2,492.8)(54.7,493.1)(57.5,493.8)(57.3,491.9)(91.1,512.3)(86.9,514)(89.5,514.2)(97.1,511.7)(93.4,508.8)(98.7,507.7)(90.9,505.5)(95.1,505)(98.3,503.5)(89.9,503)(88.9,501.3)(86.4,501.2)(86.1,502)(83.5,502.1)(79.5,501.9)(78.7,499.5)(81.7,500)(85.9,498.8)(90.7,498.5)(93.3,501.8)(96,502.8)(96.8,502.1)(97,500.3)(98.2,497.4)(94.4,497.4)(77.4,497.4)(81.6,497.2)(73.2,495.4)(75.1,495.9)(75.4,494)(78,494.7)(69.8,494.7)(65.8,493.5)(73.2,492.6)(76.2,492.3)(82.3,493.3)(84.3,492.7)(84.1,491.2)(85.9,494.4)(88,494.4)(89.5,493.3)(89.1,495.9)(92,495.4)(93.1,494.7)(95.7,494.2)(92.7,492.3)(98.2,491.4)(86.4,491.3)(95.5,490.1)(89.9,489)(93.1,488.4)(98,488.2)(86.8,488.4)(84.2,489)(81.7,490.2)(81.8,487.1)(84.6,486.2)(88.1,486)(91.7,487.1)(91.4,485.3)(90.4,484.5)(82.8,484.7)(81.1,484)(86.8,483.7)(89.6,483.4)(83.8,483.7)(78.5,488.8)(74.4,490)(76.2,490)(74.9,488.4)(73.7,486.8)(76.4,487.1)(77.9,491.3)(77.9,485.8)(79.2,486)(74.2,484.7)(78.2,484)(71.5,484.3)(65.7,486)(66,484)(68,483.2)(64.7,483.3)(68.8,485.7)(70.6,488.1)(65.5,488.4)(67.4,488.6)(67.3,491)(69,490.2)(70.3,491.3)(64.5,490.2)(61.2,487.2)(63,487.2)(51.2,491.3)(52.5,490.8)(51.5,489.2)(46.3,490.6)(48.8,490)(55.4,489.4)(72.9,481.8)(76.7,482)(78.6,481.1)(80.8,481.3)(75.2,480.1)(70.1,481.1)(71.6,479.5)(73.4,479)(69.6,478.6)(69.5,476.5)(72.1,477.2)(75.1,476.9)(77.7,478.2)(79.8,478.7)(79.2,476.9)(83.1,481.6)(84.1,480)(85.8,481.3)(82.8,478.7)(85.8,478.3)(88.3,481.6)(90,481.6)(90.4,480.3)(88.4,477.7)(90.4,477.7)(92.7,478.8)(87.1,476.1)};
\addplot[dots=cL] coordinates {(-9.7,513.9)(-4.6,514)(-3,513.9)(-4.8,513)(-13.1,509.7)(-11.3,510.4)(-5.9,510.5)(-9.4,507.8)(-4.4,506.9)(-14.1,506.4)(-8,504.7)(-1.8,505.2)(-26.1,502.3)(-21.7,502)(-17.7,503.4)(-11.7,502.8)(-7.9,502.3)(-3.9,503.1)(-30.2,500.6)(-30.7,496.7)(-27.1,498.1)(-23.2,499.1)(-19.3,499.4)(-14.2,499.3)(-9.6,499.1)(-5.2,499.1)(-17.1,497.2)(-21.6,496.5)(-19.7,496)(-24.1,495.6)(-27.8,494.6)(-14.4,495.4)(-11.3,496.2)(-8.1,496)(-17.7,493.9)(-28.9,493.1)(-12.2,493.3)(-21.3,492.7)(-25.1,492.3)(-9.9,492.5)(-28.4,491)(-23.3,490.8)(-22.5,490)(-25.4,489.6)(-27,489.1)(-28.3,488.4)(-17.7,490.8)(-14.7,491.2)(-14,489.4)(-12.3,490.5)(-20.3,488.8)(-16.8,487.9)(-23.3,488.1)(-29.2,486.7)(-25.9,486.7)(-22.7,485.7)(-24.5,485)(-28.6,485)(-30.7,485.4)(-19.3,485)(-95.5,483.7)(-33.9,482)(-31.7,483.2)(-29.3,483)(-27,481.4)(-25,482)(-23.2,481.1)(-97.6,481.9)(-94.3,481.6)(-99.5,479.3)(-96.1,479.3)(-94.5,478.8)(-33.5,479.5)(-31.3,480.7)(-28.9,479.9)(-27.3,479.6)(-25.6,479.5)(-35.5,478.5)(-99.9,476.9)(-97.5,477.2)(-39.6,476.9)(-37.9,476.9)(-33.4,476.7)(-30.8,477.8)(-27.7,476.9)(-25.4,477.3)(-29.2,475.7)(-26.7,475.6)(-81.9,475.7)(-87.6,474.7)(-94.8,474.7)(-97.7,474.8)(-92.2,474.3)(-90.2,473.7)(-78.2,474.8)(-76.4,474.6)(-79.8,473.8)(-82,472.9)(-67.5,473.4)(-69.5,473.1)(-57.7,472.9)(-55.3,473.8)(-44.9,474)(-44,474.3)(-39.8,474)(-38.2,475.3)(-35.6,475.7)(-33.7,473.8)(-36.3,473)(-98.9,473)(-97,471.4)(-93.8,472.5)(-92.9,472.5)(-91.3,471.4)(-88.7,471.9)(-86.5,472.9)(-84.6,471.8)(-86.6,470.5)(-80.4,471.4)(-77.7,472.5)(-77.3,470.4)(-75.1,471.9)(-73,470.1)(-70.5,470.4)(-67.6,470.1)(-96.1,470.1)(-93.7,470.1)(-98.6,469.2)(-96.4,468.6)(-92.2,468)(-89.4,468.5)(-86.5,468.4)(-83.7,469.3)(-81.7,469.1)(-78,468.1)(-75.7,468.8)(-71.4,468.4)(-69.2,468.3)(-67.3,468)(-99.9,466.7)(-97.8,466.2)(-94.5,465.7)(-90.6,467.2)(-88.1,465.1)(-85.7,466.4)(-82.3,466.2)(-79.1,465.4)(-75.9,467.2)(-73.4,465.7)(-70.8,466.2)(-67.9,465.7)(-95.9,464.1)(-90.6,464.1)(-84.2,464.6)(-77.2,464.4)(-67.6,464.1)(-56.1,470.9)(-54.2,470.1)(-53.5,472.5)(-52,473)(-50.3,472.5)(-48.4,472.5)(-51,471.4)(-45.2,472.2)(-48.1,469.8)(-52.3,468.8)(-50.7,468.5)(-43.6,470.1)(-41.7,472.5)(-39.2,471.4)(-41.7,470.6)(-39.8,469.1)(-37.6,468.4)(-53.5,467.2)(-49.1,466.7)(-47.2,466.4)(-43,468.3)(-43,466.2)(-40.2,467)(-51.3,465.7)(-44.9,464.9)(-54.2,464.4)(-38.5,465.4)(-35.9,470.4)
(-64.5,464)(-62,462.5)(-59,463.5)(-56,464.5)(-53,462.5)(-50,464)(-47,463)(-44,464)(-40,463)(-37,464)(-34,462.5)(-66,460)(-63,459)(-60,460.5)(-57,460)(-54,458.8)(-52,460.3)(-48,460)(-45.5,458.5)(-43,460)(-40,459)(-37,460)(-34,459)(-64,456)(-61,455.5)(-58,456.5)(-55,456)(-53,455)(-50,456.5)(-48,455)(-45,456)(-42,455)(-39,456)(-36,455)(-33,456.5)(-62,452.5)(-59,452)(-56,453)(-54,451.5)(-51,452.5)(-49,451)(-46,453)(-43,452)(-40,452.5)(-37,451)(-34,452.5)(-61,449)(-58,449.5)(-55,448.5)(-52,449.5)(-50,448)(-47,449.5)(-45,448)(-42,449)(-40,449)(-37,448.5)(-34,449)(-53,446.5)(-50,445.8)(-47,447)(-44,446.5)(-41,447)(-38,447.5)(-88,460)(-86,459)(-84,460)(-92,456.5)(-81,457)(-91,450.8)
(20.6,524)(27.2,523.6)(65.5,523.8)(73.2,524.1)(77,525.3)(58.5,521.8)(72,520.9)(82,520)(67.2,519.8)(66.3,518.1)(76.7,518.4)(18.1,518.1)(22.4,517.7)(26.6,516.6)(62.9,516.4)(72.6,516.6)(73.7,516.6)(83.5,516.5)(68.9,514.5)(15.6,513.6)(22.2,514.4)(23,514.4)(29.5,513.2)(74.3,513.2)(79.4,514.1)(77.1,512.6)(4.8,512)(10.4,511.7)(20.2,511)(24.3,510.8)(61,512.2)(84.2,511.9)(88.1,511.4)(88.5,509.6)(-0.3,509.5)(14.8,508.9)(13.7,507.3)(32.6,509.4)(64.7,509.5)(69.8,509.7)(77.2,509.3)(81.3,507.8)(5.5,507)(18.7,507)(22.4,507.6)(27.6,507.9)(35,507.1)(73,506.1)(-1,505.5)(11.1,505.6)(23.2,505.6)(33.2,505.2)(35.7,505.1)(60.5,506.7)(63.3,505.4)(64.3,504.2)(67.2,504.9)(86.2,505.1)(77.7,504.1)(81.9,504.1)(4,504.6)(12.7,504.1)(15.4,504.7)(1.8,503)(6.3,503.2)(8.7,503.3)(28.8,503.8)(71.9,502.7)(73.4,503.7)(74.4,503.3)(74,502.5)(17.5,501.8)(20.3,502.4)(24.8,502.4)(3.2,500.7)(4.9,499.8)(9.4,500.5)(13.6,500.7)(17,500.4)(15.6,499.6)(24.5,500.3)(29.1,501.7)(27.5,500.1)(31.2,501.4)(34.4,501.5)(38.1,501.5)(58.1,502.3)(61,501.4)(63.5,502.3)(67.8,500.9)(74.9,500)(30.9,498.9)(36.2,499.7)(36.1,498.6)(37.5,498.1)(40.1,499.5)(41.6,499.5)(41.8,498.5)(59.1,499.6)(58.4,498.7)(61.6,499.2)(22.4,498.4)(34,498)(15.8,497.7)(19.3,497.7)(6.7,497.7)(66.7,497.5)(70.6,498.1)(69.1,496.7)(58.6,496.4)(40.1,496.7)(12.4,496.1)(26.6,496.9)(29,496.8)(27.4,495.7)(24.9,495.7)(31.5,495.5)(62.6,495.5)(33.4,493.6)(33.7,492.8)(34.7,492)(36.3,491.2)(27.8,492.6)(28.7,491.4)(31.2,491.9)(36.3,494.3)(40.1,493.2)(10.5,492.4)(14.1,491.8)(17.7,493.7)(33.7,489.9)(38.5,490)(41,489.6)(39.6,488.4)(38.8,486.6)(36,488.1)(43.9,489.1)(30.3,487.3)(32.5,487.2)(41.4,486.7)(45.6,487.1)(47.4,487.7)(49.4,487.2)(35.5,485.3)(32.9,484.2)(33.7,482.9)(35.1,482.8)(38.3,483)(40.3,484.5)(41.1,483.7)(43.6,484.7)(45.2,484.5)(47,484.8)(42.3,482.4)(41,481.7)(44.2,482.5)(46.9,481.8)(51.2,484.7)(53.3,486.5)(53.3,485)(55.3,484.6)(56.1,486.8)(57.4,487.6)(58.1,484.7)(59.4,485.5)(61,485.8)(63,485.3)(58.4,490)(61.2,489.4)(63.4,482.6)(59.7,483.2)(59.1,482.1)(53.8,483.2)(49.6,482.3)(51.5,482.4)(51.7,481.3)(57,481.5)(36.2,480.4)(38.3,480)(41.3,479)(43.6,480.2)(43.8,478.2)(45.9,478.8)(48.4,480.2)(50.8,479.6)(53.8,480.6)(37.3,478.6)(39.4,477.7)(46.2,476.9)(48.5,477.4)(50.5,477.2)(52.5,477.5)(49.5,475.9)(51.8,475.3)(53.7,475.3)(54.5,477.7)(56.8,478.5)(58.4,479)(59.7,478.2)(61.1,478.5)(56.8,476.9)(55.4,475.9)(59.3,477.2)(62.4,477.1)(61,475.6)(60.3,480.5)(65.5,481.3)(67.3,479.8)(65.3,479.5)(65.5,478.2)(67.8,477.7)(66.8,475.9)(64.3,474.8)(71.3,474.3)(73.2,475.3)(74.6,473.8)(80.8,475.9)(83.8,474.8)(82.8,473.2)(85.6,474.6)(89.7,476.1)(89,474.8)(93.7,474.3)(97.3,474)(98.3,472.7)(66.3,473)(68.3,474)(67.6,471.9)(69.6,472.5)(71.8,472.5)(73.6,471.4)(75.2,471.4)(77,472.7)(80.2,471.4)(78.2,470.6)(77.2,469.6)(79.8,469.3)(85.3,471.7)(88.1,472.2)(91.4,472.5)(90.1,470.6)(92,469.6)(93.7,471.9)(96.6,471.7)(98.3,471.7)(99.5,470.9)(99.6,468.5)(97.6,467.8)(96.3,468.4)(94.3,467)(92,466.7)(86.4,467.2)(84.1,467.2)(80.8,469)(79.3,468.5)(71.3,468.5)(73.2,467.8)(71.6,466.7)(76.5,467.2)(79.5,465.9)(74.2,465.1)(76.5,465.4)(71.9,464.4)(69.6,470.1)(65.3,470.4)(63.7,471.9)(62,471.7)(54.8,472.7)(55.1,470.9)(53.8,469.8)(56.8,469)(52.5,468.3)(58.4,466.7)(60.4,467.5)(63.7,464.9)(55.4,466.2)(60.4,465.1)(67.3,466.4)(57.1,464.9)(93.7,485.8)(95.5,486.7)(97.5,485.4)(96,483.4)(97.5,484)(99.3,483.7)(97.6,482.1)(93.7,481.4)(96.8,480.3)(99.6,480.7)(98.8,478.1)(94.3,477.4)(96.3,478)(99.3,475.9)(92,475.9)(89.6,475.9)(99,465)(97,463)(99,461)(98,457.5)(68,464)(66,463.5)(71,463.7)(52.5,458)(55,461)(61,465)(57,463.5)(53,463.8)(17.5,449)(21,452)(23,453)(26,453)(29,452.5)(31,451)(24,450.7)(27,450.5)(33,448.5)(16.5,450.2)};
\addplot[dots=cM] coordinates {(-4.6,495)(-1.4,496.2)(-7.6,493.5)(-6.4,493.3)(-2.4,492.2)(-5.9,491.4)(-8.8,490.6)(-9.8,488.7)(-7.6,489.2)(-5.4,488)(-2.6,488.1)(-12.5,488.3)(-14.2,487.4)(-14.1,487.4)(-11.5,485.8)(-9.3,484.7)(-7.4,486.8)(-5.8,486.4)(-4.2,485.9)(-6.2,484.4)(-3.7,484.1)(-13.3,483.9)(-11.5,483.7)(-16.3,484.8)(-18.1,484.2)(-20.3,481.9)(-18.6,482.9)(-16.6,482.1)(-14.7,482.4)(-7.5,482.7)(-20.9,479.5)(-18.7,480.8)(-16.5,479.3)(-23.2,478.2)(-18.7,478.1)(-20.6,476.2)(-18.4,475.6)(-18.1,474)(-23.8,475.2)(-31.4,473)(-29.3,473.2)(-25.7,473.5)(-23.8,473.5)(-31.5,471.7)(-29.3,470.9)(-27,471.2)(-34.4,471.4)(-24.8,471.7)(-20.6,471.7)(-18.7,471.2)(-22.9,470.1)(-35.3,468.5)(-30.7,469.3)(-30.8,466.7)(-33.7,465.9)(-31.5,464.9)(-35,463.8)(-36,461)(-30,463)(-28,461)(-27,458)(-30,458)(-33,461)(-30,452)(-27,449.8)(-25,448)(-23,455.5)(-25,453)(-27,455)(-22,484)(-15,486)(-9,488)(-3,490)(3,491)(12,489)(14,486)(19,490)(25,491)(28,485)(33,485)(36,483)(31,480)(36,477)(39,476)(44,478)(35,475)(43,473)(51,472)(54,469)(47,466)(49,464)(53,467)(-36,473)(-39,466)(-32,468)(-33,463)
(1.7,499.4)(-0.7,496.1)(3.4,496.1)(6.2,495)(8.8,496)(1.1,494.3)(3.4,493.1)(0.5,492.6)(4.7,491.4)(7,492)(21.6,493.7)(19.6,491)(21.8,490.8)(23.7,490.9)(16.9,489.9)(21.4,489)(11.6,489.4)(9,489.4)(8.6,488.1)(2.7,489.4)(-0.7,489.2)(6,488.6)(14.6,488)(16.9,488.1)(18.5,487.8)(23.7,487.9)(25.4,487.4)(26.1,489.3)(27.9,489.7)(29.7,489.6)(27.8,487.2)(1.1,486.6)(3.2,486.2)(8.3,486)(10.9,486.5)(16.4,485.9)(21.5,486)(30.3,486.2)(24.6,485)(1.3,484.3)(5.7,485.1)(3.7,484.3)(-0.9,483.4)(19.4,484.6)(21.8,483.3)(28.5,484.2)(31.1,484.1)(30.6,482.9)(25.6,482.5)(22.8,481.6)(27.4,480.9)(29.9,480.9)(33,481.4)(24.5,479.9)(26.4,478.2)(28.7,478.6)(23.7,478.1)(31.6,478)(33,477.2)(34.7,478)(25.3,476.2)(28.7,476)(32,475.6)(34.3,475.4)(41.8,476.6)(44.4,475.9)(46.9,475.3)(48.2,474.5)(36,473.6)(38.3,473.5)(39.7,474.7)(42.3,473.9)(26.9,473.7)(44.6,472.5)(47.5,472.7)(49.8,473.5)(48.2,471.9)(49.4,470.9)(25.4,471.6)(59.7,473.5)(62,473.9)(57.5,471.4)(61,471.7)(59.4,471.2)(61.7,469.7)(59.1,469.2)(50.8,469)(49.5,467.5)(51.2,466.7)(53.8,465.4)(64.5,467.3)(68.9,467.3)(62.2,467)(67,466.7)(66.1,465.4)(88.4,464.7)(90.2,465)(92.7,465.1)(94.7,465.4)(96.3,464.6)(94,464.1)
(19,458)(21,456)(18.5,455.5)(22,454)(25,455.5)(28,455)(31,456)(31,453.5)(34,453)(37,454)(40,453.5)(43,452.5)(46,453)(49,453)(51,455)(51,459)(52,462)(54,458)(56,460)(58,462.5)(60,459.5)(62,461)(55,456)(58,455)(61,457)(64,459)(66,461.5)(69,460)(72,461)(74,463)(63,455)(66,456)(69,457)(72,458)(75,459)(78,461)(81,462)(83,459.5)(86,458)(89,459.5)(92,461)(94,463)(96,460)(78,457.5)(81,458)(84,455.5)(87,455)(90,456.5)(93,456)(96,456.5)(99,455)(73,454)(76,455)(79,454.5)(82,453)(70,453.5)(67,453)(64,452)(61,453)(58,452.5)(55,453)(52,452)(89,453)(92,453)(95,454)(98,452.5)(35,450.5)(38,451)(41,450.5)(44,450)(47,450.5)(50,450)(53,450)(56,450)(59,451)(62,451)(65,450)(68,449.5)(71,450)(74,449.5)(40,448.5)(44,448)(36,448.5)(47,448.5)(33,451)(77,451)(15.7,453.1)(18,451)(21,458)(24,453.5)(27,456.5)(30,453.5)(33,455)(36,451.5)(39,451.5)(42,454)(45,451)(48,452)(50,457)(53,455)(56,458)(57,453)(60,455.5)(62,458.5)(65,454)(68,458)(71,456)(74,460.5)(77,459)(80,456)(83,457)(86,460.5)(88,457)(91,458)(94,458)(97,458.5)(75,452)(78,453)(85,453)(87,452)(94,452)(97,455)(60,450)(63,449)(55,451.5)(50,451.5)};
\addplot[dots=cN] coordinates {(-25.9,478.2)(-12.3,481.3)(-9.6,482)(-5.3,481.6)(-2.7,482.2)(-9.7,479)(-7.5,480.6)(-12.3,477.9)(-9.4,476.1)(-28.3,468.3)(-25.4,468.5)(-17.4,469.6)(-20,468.6)(-28.3,465.9)(-25.4,465.7)(-20.3,466.2)(-18.4,466.7)(-27,464.1)(-14.9,470.1)(-15,467.5)(-21.3,474)(-25,463)(-22,461)(-24,458)(-19,461)(-20,455)(-18,453)(-15.5,453.5)(-21,452.5)(-96,453)(-94,448.5)(-90,437)(-87,438)(-85,436.5)(-84,439)(-82,437)(-99,462)
(10.1,483.9)(11.6,483.2)(12.9,481.6)(8.3,482.4)(10.3,480.9)(8.5,480.9)(14.9,482.8)(17.2,482.8)(17.5,481.4)(19.7,481.6)(18.3,479.5)(21.3,479)(3.4,482.8)(5.3,482.5)(1.5,481.3)(3.5,480.4)(1.7,479.5)(-0.7,480.6)(6,479.9)(8.3,479.4)(6.5,478)(11,478)(19.7,477.3)(21.5,475.9)(19.6,475.1)(24.3,473.4)(29.7,473)(33,472.2)(35,471.9)(37.3,471.2)(34.7,470.6)(39.6,472.5)(41.3,472.5)(39.6,470.1)(41.9,470.6)(46.5,470)(30.3,470.1)(23.3,471)(21,471.4)(18.5,472.3)(17.2,471.4)(19.5,469.9)(21.2,469.6)(17.5,469.3)(25.4,469.7)(27.4,471.2)(33.4,468.9)(35.7,469)(40.9,468.4)(39,467.8)(42.6,467.2)(44.2,468.5)(45.9,467.5)(48.1,468.3)(22.5,468.5)(19.8,467.2)(21.6,465.8)(24.8,466.4)(26.8,466.7)(17.5,466.2)(31,467.2)(29.1,465)(36.5,465.9)(39,465.1)(40.9,465.8)(42.3,465.4)(32.4,464.4)(25.1,464.9)(26.4,464.4)(35.7,464.1)(38.3,463.8)(20,464)(23,463)(26,464)(29,463)(22,460.5)(25,461)(28,461)(31,462.5)(33,460.5)(36,463)(38,461)(40,462.5)(42,460.5)(45,463)(47,460.5)(50,462)(27,458.5)(30,458)(33,457.5)(36,459)(39,458.5)(42,458)(44,457)(47,458)(49,457.5)(34,455.5)(38,456)(41,455.5)(45,455)(48,455.5)(24,458)(18,460)(14.3,455.7)(15.7,455.4)(17.2,454.1)(18,452.7)};
\addplot[dots=cO] coordinates {(-12.8,472.2)(-11,472.9)(-9.4,473.5)(-8,474.3)(-6.1,474.6)(-4.9,473.8)(-12.6,472.2)(-13.1,475.2)(-14.4,477.8)(-16.5,476.1)(-7.2,476.2)(-13.9,480.8)(-12.3,479.8)(-3.7,480)(-6.5,478.5)(-1.8,478.5)(-11.8,470)(-9.4,470.9)(-12.8,468.3)(-10.4,468)(-12.8,466.7)(-17.7,468)(-19.3,473.8)(-21,458.5)(-17,458.5)(-14.5,455.5)(-16,456)(-12.5,458)(-12,456)(-14.5,456.5)(-94,450)(-92,451)(-96,449)(-99.5,458)(-88,436)(-83,436)(-80,441)(-78,443)(-76,440)(-77,446.5)
(-0.3,476.1)(0.7,477.2)(3.7,477.8)(4.7,474.8)(6.5,475.9)(8.1,476.2)(8.3,473.8)(10.6,475.6)(10.8,473.8)(10.7,478)(12.9,477.4)(13,474.8)(14.9,476.8)(17.2,477.2)(15.9,474.3)(12.8,472.9)(3.2,473.2)(5.9,472.7)(15.4,471.4)(12.6,480.3)(15.2,479.9)(11.9,468.5)(13.6,466.2)(10.5,466.7)(32.9,467)(44.6,466.2)(46.2,464.4)(42.6,464.1)(26,466)(33,465)(31,459.5)(37,460.3)(41,464)(43,461)(45,459.5)(46.5,461.5)(44,463.5)(34,463)(10.4,458.6)(12.4,456.7)(11.1,463)(12.9,462.7)(16.1,461.7)(15.4,458.6)};
\addplot[dots=cP] coordinates {(-4.2,476.5)(-2.7,473.1)(-5.3,471.9)(-3.7,470.9)(-7.2,468.9)(-4.9,468.4)(-3,470.3)(-2.1,468.3)(-16,462.5)(-13,461)(-15,464)(-10,461)(-9,458.5)(-11,459.5)(-13,457.5)(-4.2,460.9)(-7.5,459.6)(-8.2,458)(-100,456)(-99,452)(-97,451)(-95,451.5)(-79,437)(-76,437)(-80,444)(-75,443)(0.7,472.5)(10.6,471.2)(12.9,470.4)(1.7,471.2)(3,471)(1.4,470)(5.2,469.6)(14.9,468)(7.3,468.8)(11.3,459)(7.8,460.4)(12.1,458.6)(13.9,457.8)(14.4,460.9)(2,461.8)(11.6,465.7)};
\addplot[dots=cQ] coordinates {(-11,465.4)(-16.1,465.4)(-5.3,466.2)(-12,459.5)(-100,453)(-77,436)(-74,436.5)(-72,443)(-74,446)(-77,448)(8,470.4)(10.1,468)(9,465.6)(5,461.4)(9.5,461.1)(11.3,460.4)(-3.5,460.5)};
\addplot[dots=cR] coordinates {(-2.4,467)(-11,463.5)(-10,464.5)(-8,463.5)(-6,461)(-100,450.5)(-98,450.5)(-73,435.8)(-71,435.8)(-73,444)(-71,446.5)(-68,445.5)(-97,440.8)(0.1,467.8)(2.7,467.2)(5.1,467)(-0.9,465.9)(0.1,465.4)(4,464.1)(6.3,465.4)(-0.1,467.7)(-2.2,466.9)(2.4,467.5)(5.2,466.8)(-0.1,465.1)(-2.9,462.2)(-1.1,462.7)(-6.5,462.2)(4.1,464)(6.4,465.3)(9.8,462.9)};
\addplot[dots=cS] coordinates {(-8.2,464.1)(-5.9,464.4)(-0.4,463.5)(-2.2,463.8)(-4.7,463.3)(-5.8,464)(-8,463.8)(7.1,462.7)(-97,449.5)};
\addplot[dots=cT] coordinates {(-99,449)(-100,449)(-96.8,440.6)(1.5,465.4)(1.7,464.4)(1.7,465.6)};
\boxes{514.5}{514.5}{17}
\node[font=\calib\bfseries\fontsize{22.5}{24}\selectfont] at (axis cs:-0.3,519.2) {5: very-fine};
\end{axis}
\node[font=\fontsize{12.8}{14}\selectfont] at (614pt,4.5pt) {\fontspec{Latin Modern Roman}$\bar{k}_{max}\;=\;0.416\;\;m^2/s^2$};
\begin{axis}[cbar,anchor=south west,at={(707.5pt,40pt)},height=287pt]
\cbands
\end{axis}
\node[font=\fontsize{7}{8}\selectfont] at (717pt,337.5pt) {\fontspec{Latin Modern Roman}k $[m^2/s^2]$};
\end{tikzpicture}
\end{document}
